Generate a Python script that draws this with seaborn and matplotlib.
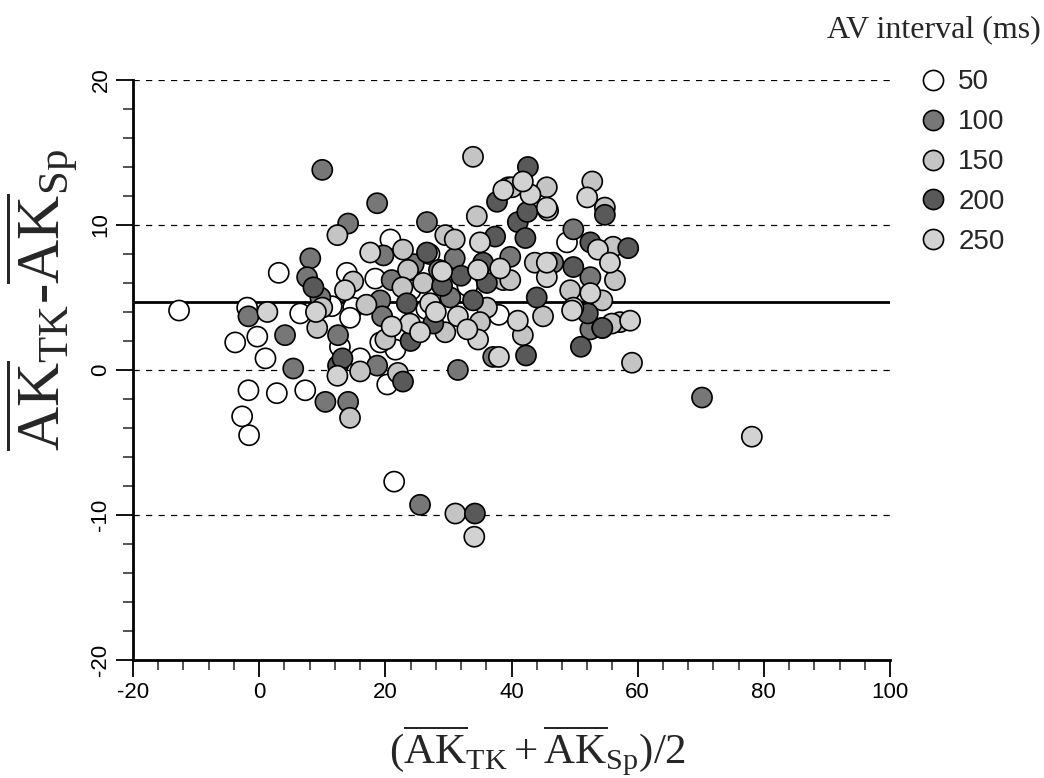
import numpy as np
import pandas as pd
import seaborn as sns
import matplotlib.pyplot as plt
from matplotlib.ticker import MultipleLocator

# valores (media, diferencia) por intervalo AV
x50 = [-12.7, 3.1, -3.8, -0.3, 1.0, -1.7, 2.8, 7.3, -2.7, -1.6, -1.9, 13.9, 18.4, 14.9,
       16.0, 20.3, 21.4, 21.6, 48.8, 6.5, 14.4, 12.8, 19.2, 20.8, 11.5, 24.0, 27.0, 38.0,
       33.0, 26.5]
y50 = [4.1, 6.7, 1.9, 2.3, 0.8, -1.4, -1.6, -1.4, -3.2, -4.5, 4.3, 6.7, 6.3, 4.3,
       0.8, -1.0, -7.7, 1.4, 8.8, 3.9, 3.6, 1.6, 1.9, 9.0, 4.4, 5.5, 8.0, 3.8,
       5.8, 4.2]

x100 = [10.0, 18.7, 14.1, 8.1, 7.6, 9.7, -1.7, 4.1, 5.4, 12.5, 18.7, 31.5, 10.5, 14.1,
        25.5, 70.2, 49.8, 52.5, 46.6, 52.5, 54.4, 26.6, 19.7, 31.0, 19.2, 30.3, 19.5,
        37.1, 39.8, 24.5, 21.0, 28.5]
y100 = [13.8, 11.5, 10.1, 7.7, 6.4, 5.0, 3.7, 2.4, 0.1, 2.4, 0.3, 0.0, -2.2, -2.2,
        -9.3, -1.9, 9.7, 6.4, 7.4, 2.8, 2.9, 10.2, 7.9, 7.7, 4.8, 5.0, 3.7,
        0.9, 7.8, 7.3, 6.2, 6.9]

x150 = [33.9, 39.5, 12.4, 14.9, 10.0, 9.2, 16.0, 22.0, 59.1, 31.1, 52.8, 54.8, 45.6,
        56.1, 56.4, 49.3, 54.4, 57.2, 45.0, 34.5, 29.5, 22.8, 23.6, 22.7, 38.7, 36.1,
        20.0, 29.5, 35.0, 40.1, 45.8, 43.7, 39.8, 41.8, 55.9, 14.4, 17.0, 31.0, 26.0]
y150 = [14.7, 12.6, 9.3, 6.1, 4.3, 2.9, -0.1, -0.2, 0.5, -9.9, 13.0, 11.2, 12.6,
        8.5, 6.2, 5.5, 4.8, 3.3, 3.7, 10.6, 9.3, 8.3, 6.9, 5.7, 6.2, 4.3,
        2.1, 2.6, 3.3, 12.6, 11.0, 7.4, 6.2, 2.4, 3.2, -3.3, 4.5, 9.0, 6.0]

x200 = [42.6, 37.7, 41.0, 42.2, 42.5, 8.6, 12.5, 22.8, 34.2, 42.3, 51.0, 58.5, 49.8,
        52.1, 54.4, 52.5, 54.8, 26.6, 36.1, 23.4, 33.9, 27.6, 37.4, 13.2, 29.0, 35.5,
        44.0, 24.0, 32.0]
y200 = [14.0, 11.6, 10.2, 9.1, 10.9, 5.7, 0.3, -0.8, -9.9, 1.0, 1.6, 8.4, 7.1,
        3.9, 2.9, 8.8, 10.7, 8.1, 6.0, 4.6, 4.8, 3.2, 9.2, 0.8, 5.8, 7.4,
        5.0, 2.0, 6.5]

x250 = [43.0, 1.3, 12.4, 38.0, 34.1, 78.1, 52.0, 45.6, 53.7, 55.6, 45.6, 52.5, 49.8,
        58.8, 38.7, 17.6, 35.0, 29.0, 34.7, 27.1, 23.9, 25.5, 31.5, 34.7, 41.8, 45.6,
        38.2, 41.0, 49.6, 13.6, 9.0, 28.0, 21.0, 33.0]
y250 = [12.1, 4.0, -0.4, 0.9, -11.5, -4.6, 11.9, 11.2, 8.3, 7.4, 6.4, 5.3, 4.3,
        3.4, 12.4, 8.1, 8.8, 6.8, 6.9, 4.6, 3.2, 2.6, 3.7, 2.1, 13.0, 7.4,
        7.0, 3.4, 4.1, 5.5, 4.0, 4.0, 3.0, 2.8]

mean_diff = 4.7

intervals = ["50", "100", "150", "200", "250"]
colores = {"50": "#ffffff", "100": "#777777", "150": "#c4c4c4",
           "200": "#595959", "250": "#d2d2d2"}

df = pd.concat([
    pd.DataFrame({"media": x50, "dif": y50, "AV": "50"}),
    pd.DataFrame({"media": x100, "dif": y100, "AV": "100"}),
    pd.DataFrame({"media": x150, "dif": y150, "AV": "150"}),
    pd.DataFrame({"media": x200, "dif": y200, "AV": "200"}),
    pd.DataFrame({"media": x250, "dif": y250, "AV": "250"}),
], ignore_index=True)

sns.set_style("ticks")
plt.rcParams["font.family"] = ["Liberation Sans", "DejaVu Sans"]
plt.rcParams["axes.unicode_minus"] = False
plt.rcParams["mathtext.fontset"] = "custom"
plt.rcParams["mathtext.rm"] = "Liberation Serif"
plt.rcParams["mathtext.it"] = "Liberation Serif:italic"

fig = plt.figure(figsize=(10.44, 7.78), dpi=100)
ax = fig.add_axes([0.1274, 0.1517, 0.7251, 0.7455])

for yy in [-10, 0, 10, 20]:
    ax.axhline(yy, color="black", lw=0.9, linestyle=(0, (5, 5)), zorder=1)
ax.axhline(mean_diff, color="black", lw=2, zorder=1)

sns.scatterplot(data=df, x="media", y="dif", hue="AV", hue_order=intervals,
                palette=colores, s=210, edgecolor="black", linewidth=1.2,
                ax=ax, zorder=3)

ax.set_xlim(-20, 100)
ax.set_ylim(-20, 20)
ax.xaxis.set_major_locator(MultipleLocator(20))
ax.xaxis.set_minor_locator(MultipleLocator(4))
ax.yaxis.set_major_locator(MultipleLocator(10))
ax.yaxis.set_minor_locator(MultipleLocator(2))
ax.tick_params(which="major", direction="out", length=12, width=1.3,
               labelsize=16, colors="black")
ax.tick_params(which="minor", direction="out", length=7, width=1.1)
for lab in ax.get_yticklabels():
    lab.set_rotation(90)
    lab.set_va("center")
sns.despine(ax=ax)
for s in ["left", "bottom"]:
    ax.spines[s].set_linewidth(2)
    ax.spines[s].set_color("black")

ax.set_xlabel(r"$(\overline{\mathrm{AK}}_{\mathrm{TK}}+\overline{\mathrm{AK}}_{\mathrm{Sp}})/2$",
              fontsize=31, va="top")
ax.xaxis.set_label_coords(0.534, -0.11)
ax.set_ylabel(r"$\overline{\mathrm{AK}}_{\mathrm{TK}}$-$\overline{\mathrm{AK}}_{\mathrm{Sp}}$",
              fontsize=44, family="Liberation Serif")
ax.yaxis.set_label_coords(-0.07, 0.62)

sns.move_legend(ax, "upper left", bbox_to_anchor=(0.870, 0.925),
                bbox_transform=fig.transFigure, frameon=False,
                title=None, fontsize=20, labelspacing=0.5, handlelength=1.0,
                handletextpad=0.4, borderaxespad=0)
fig.text(0.997, 0.962, "AV interval (ms)", ha="right", va="center",
         fontsize=23, family="Liberation Serif")

plt.savefig("out.png", dpi=100)
